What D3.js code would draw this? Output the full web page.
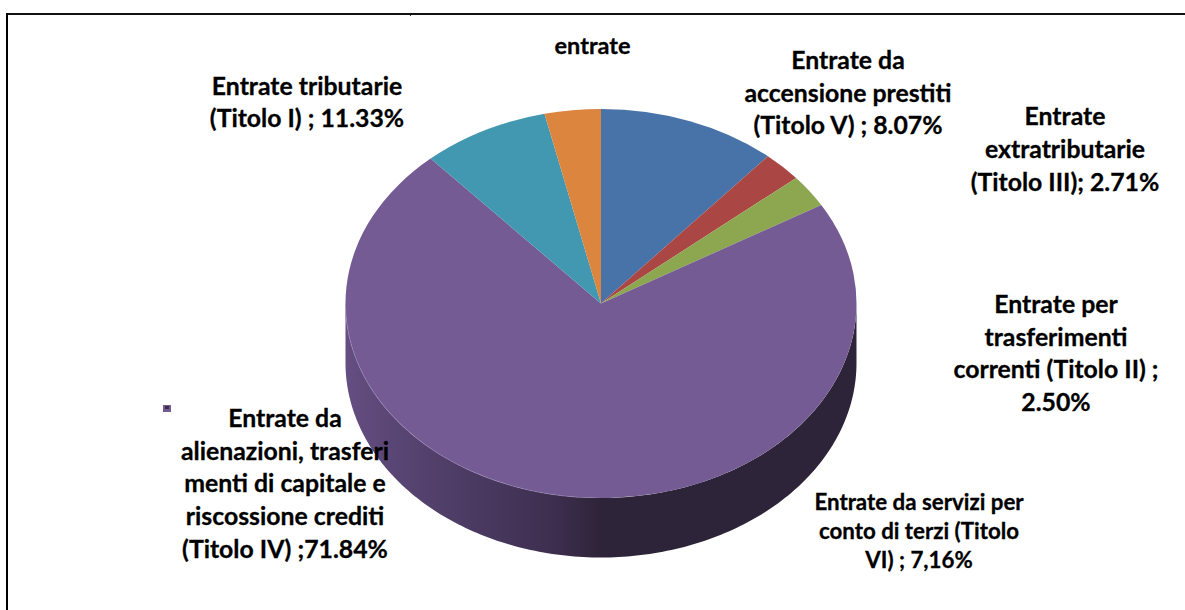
<!DOCTYPE html>
<html><head><meta charset="utf-8">
<script src="https://cdnjs.cloudflare.com/ajax/libs/d3/7.8.5/d3.min.js"></script>
<style>html,body{margin:0;padding:0;background:#fff}svg{display:block}</style>
</head><body><div id="c"></div>
<script>
// data
const sliceNames = ["Titolo I","Titolo II","Titolo III","Titolo IV","Titolo V","Altre entrate"];
const sliceValues = [11.33,2.50,2.71,71.84,8.07,3.55];
const sliceColors = ["#4873a8","#aa4644","#8ca750","#755b93","#4298b0","#db853e"];
const labelLines = [
 ["entrate"],
 ["Entrate tributarie","(Titolo I) ; 11.33%"],
 ["Entrate da","accensione prestiti","(Titolo V) ; 8.07%"],
 ["Entrate","extratributarie","(Titolo III); 2.71%"],
 ["Entrate per","trasferimenti","correnti (Titolo II) ;","2.50%"],
 ["Entrate da","alienazioni, trasferi","menti di capitale e","riscossione crediti","(Titolo IV) ;71.84%"],
 ["Entrate da servizi per","conto di terzi (Titolo","VI) ; 7,16%"]
];
// layout
const W=1185,H=610,cx=601,cy=303.5,rx=255.5,ry=194.5,depth=59.5;
const labelX=[592.5,307,848,1065,1056,285,919];
const labelY=[54,94.5,69,125,313,427,510];
const labelLH=[0,32.7,32.7,33,32.7,32.7,29];
const labelFS=[23.5,24.8,24.8,24.8,24.8,24.8,22.3];

const svg=d3.select("#c").append("svg").attr("width",W).attr("height",H);
const defs=svg.append("defs");
const stops=[[0,"#654e82"],[0.1,"#594573"],[0.25,"#4a3a62"],[0.4,"#3e2f50"],[0.5,"#2e2439"],[1,"#2e2439"]];
const grad=defs.append("linearGradient").attr("id","wall").attr("gradientUnits","userSpaceOnUse")
 .attr("x1",cx-rx).attr("x2",cx+rx).attr("y1",0).attr("y2",0);
grad.selectAll("stop").data(stops).join("stop").attr("offset",d=>d[0]).attr("stop-color",d=>d[1]);

// frame
svg.append("rect").attr("x",6).attr("y",13).attr("width",W).attr("height",2).attr("fill","#111");
svg.append("rect").attr("x",6).attr("y",13).attr("width",2).attr("height",H).attr("fill","#000");
svg.append("rect").attr("x",410).attr("y",15).attr("width",1).attr("height",1).attr("fill","#333");

// wall
const wallPts=d3.range(0,181,1).map(a=>{const t=a*Math.PI/180;return [cx+rx*Math.cos(t),cy+ry*Math.sin(t)];});
const wall=d3.path();
wallPts.forEach((p,i)=>i?wall.lineTo(p[0],p[1]):wall.moveTo(p[0],p[1]));
wallPts.slice().reverse().forEach(p=>wall.lineTo(p[0],p[1]+depth));
wall.closePath();
svg.append("path").attr("d",wall.toString()).attr("fill","url(#wall)");

// top face
const pie=d3.pie().sort(null).value(d=>d);
const arc=d3.arc().innerRadius(0).outerRadius(rx);
const face=svg.append("g").attr("transform",`translate(${cx},${cy}) scale(1,${ry/rx})`);
face.selectAll("path").data(pie(sliceValues)).join("path")
 .attr("d",arc).attr("fill",(d,i)=>sliceColors[i]);

// rim highlight on the left part of the front edge
const rim=d3.line()(d3.range(95,181,1).map(a=>{const t=a*Math.PI/180;return [cx+rx*Math.cos(t),cy+ry*Math.sin(t)];}));
svg.append("path").attr("d",rim).attr("fill","none").attr("stroke","#9a86b5").attr("stroke-width",0.8).attr("opacity",0.7);

// legend key
svg.append("rect").attr("x",163).attr("y",405).attr("width",8).attr("height",7).attr("fill","#755b93");
svg.append("rect").attr("x",165).attr("y",406).attr("width",4).attr("height",3).attr("fill","#3a2d4c");

// labels
const lab=svg.append("g").attr("font-family","Lato, 'Open Sans', sans-serif").attr("font-weight",700).attr("fill","#000").attr("stroke","#000").attr("stroke-width",0.3).attr("text-anchor","middle");
labelLines.forEach((lines,i)=>{
 lines.forEach((t,j)=>{
  lab.append("text").attr("x",labelX[i]).attr("y",labelY[i]+j*labelLH[i]).attr("font-size",labelFS[i]).text(t);
 });
});
</script></body></html>
